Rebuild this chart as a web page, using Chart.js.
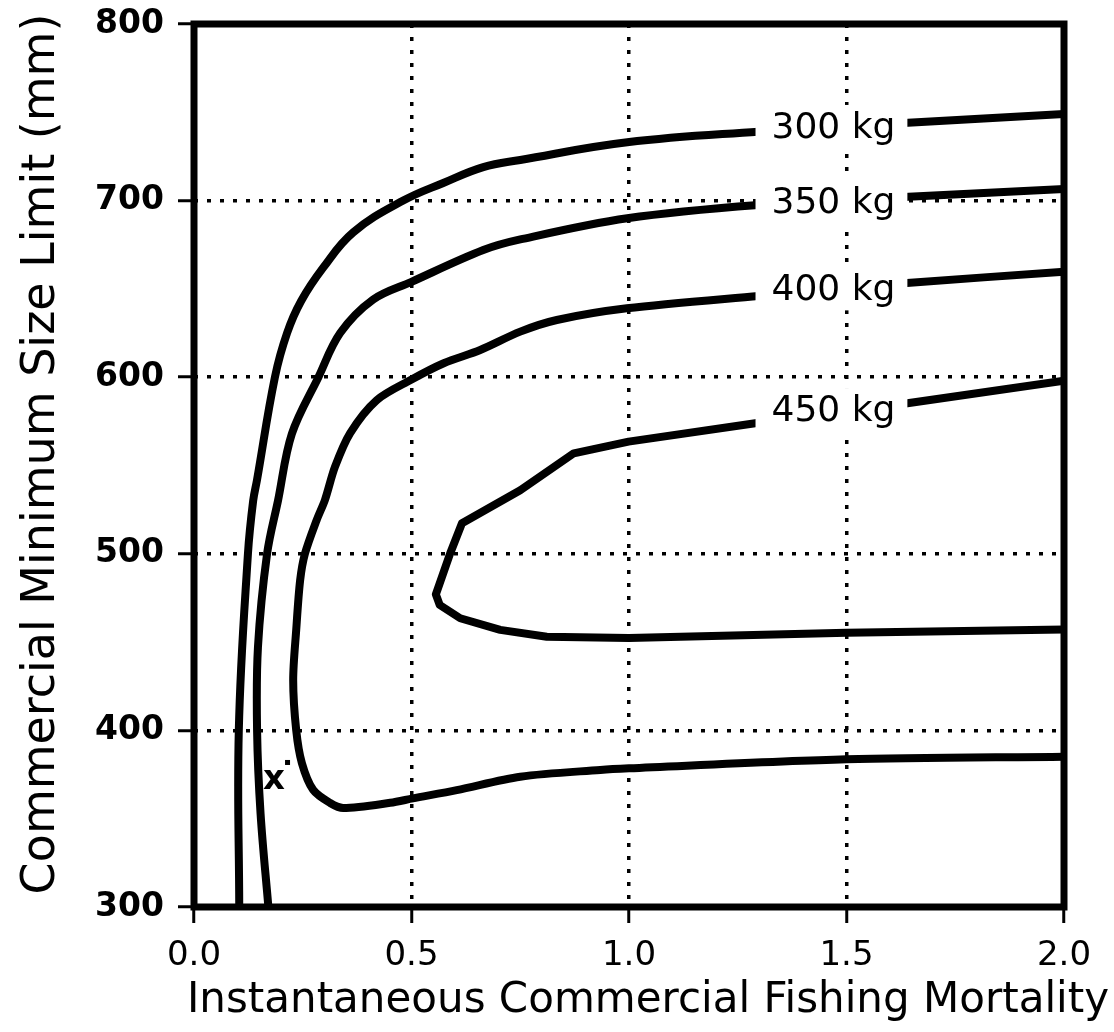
<!DOCTYPE html>
<html>
<head>
<meta charset="utf-8">
<title>Commercial yield isopleths</title>
<script src="https://cdn.jsdelivr.net/npm/chart.js@4"></script>
<style>
  html, body { margin: 0; padding: 0; background: #fff; }
  #wrap { width: 1114px; height: 1032px; }
</style>
</head>
<body>
<div id="wrap"><canvas id="isoChart"></canvas></div>
<script>
// Isopleth data: F = commercial fishing mortality, size = min size limit (mm)
var F_300 = [0.104, 0.103, 0.124, 0.136, 0.145, 0.186, 0.214, 0.246, 0.297, 0.366, 0.481, 0.573, 0.665, 0.75, 0.996, 1.297, 1.631, 2.0];
var size_300 = [300, 400, 500, 530, 542, 600, 625, 643, 662, 682, 700, 710, 719, 723, 733, 739, 744, 749];

var F_350 = [0.171, 0.153, 0.145, 0.147, 0.168, 0.193, 0.225, 0.286, 0.336, 0.412, 0.5, 0.665, 0.75, 0.996, 1.297, 1.631, 2.0];
var size_350 = [300, 353, 400, 447, 500, 530, 568, 600, 625, 644, 654, 672, 678, 690, 697.5, 702, 706.6];

var F_400 = [2.0, 1.631, 1.298, 0.995, 0.834, 0.75, 0.658, 0.574, 0.498, 0.42, 0.359, 0.324, 0.301, 0.282, 0.255, 0.244, 0.235, 0.228, 0.235, 0.248, 0.274, 0.313, 0.343, 0.451, 0.503, 0.604, 0.75, 0.934, 1.0, 1.5, 2.0];
var size_400 = [659.7, 653.2, 646, 639, 632.4, 625.8, 615.4, 607.9, 598.4, 587, 568.4, 549.2, 530.5, 519.1, 500, 485, 457, 428.6, 400, 381.5, 366.3, 358.9, 356.1, 359, 361.5, 366.2, 373.8, 377.6, 378.5, 383.6, 385.1];

var F_450 = [2.0, 1.628, 1.298, 0.999, 0.873, 0.75, 0.616, 0.589, 0.556, 0.565, 0.612, 0.704, 0.811, 1.0, 1.5, 2.0];
var size_450 = [598, 584.8, 574.2, 563.5, 556.9, 536, 517.3, 500.3, 477, 471, 463.5, 456.9, 453, 452.3, 455.3, 457.2];

// contour labels (text, F, size where the label sits)
var labelText = ['300 kg', '350 kg', '400 kg', '450 kg'];
var labelF = [1.47, 1.47, 1.47, 1.47];
var labelSize = [741.7, 699.4, 650.3, 581.4];

// the x' marker
var markF = 0.184;
var markSize = 370.8;

var xTicks = [0, 0.5, 1.0, 1.5, 2.0];
var yTicks = [300, 400, 500, 600, 700, 800];

function toPoints(xs, ys) {
    var pts = [];
    for (var i = 0; i < xs.length; i++) {
        pts.push({x: xs[i], y: ys[i]});
    }
    return pts;
}

function contour(label, xs, ys, tension) {
    return {
        label: label,
        data: toPoints(xs, ys),
        showLine: true,
        borderColor: '#000',
        borderWidth: 8,
        pointRadius: 0,
        tension: tension,
        borderJoinStyle: 'round',
        fill: false
    };
}

// draws the frame, the contour labels, the x' mark and the axis titles
var decorPlugin = {
    id: 'decor',
    afterDatasetsDraw: function(chart) {
        var ctx = chart.ctx;
        var area = chart.chartArea;
        var xs = chart.scales.x, ys = chart.scales.y;
        ctx.save();

        // labels with white box behind (hides line and grid like the original)
        ctx.font = '36px "DejaVu Sans"';
        ctx.textAlign = 'center';
        ctx.textBaseline = 'middle';
        for (var i = 0; i < labelText.length; i++) {
            var cx = xs.getPixelForValue(labelF[i]);
            var cy = ys.getPixelForValue(labelSize[i]);
            var w = ctx.measureText(labelText[i]).width;
            ctx.fillStyle = '#fff';
            ctx.fillRect(cx - w / 2 - 16, cy - 22, w + 28, 44);
            ctx.fillStyle = '#000';
            ctx.fillText(labelText[i], cx, cy + 2);
        }

        // x' mark
        var mx = xs.getPixelForValue(markF);
        var my = ys.getPixelForValue(markSize);
        ctx.font = 'bold 34px "DejaVu Sans"';
        ctx.fillText('x', mx, my - 2);
        ctx.fillRect(mx + 11, my - 22, 5, 5);

        // frame
        ctx.strokeStyle = '#000';
        ctx.lineWidth = 7;
        ctx.strokeRect(area.left, area.top, area.right - area.left, area.bottom - area.top);
        ctx.restore();
    },
    afterDraw: function(chart) {
        var ctx = chart.ctx;
        ctx.save();
        ctx.fillStyle = '#000';
        ctx.textAlign = 'center';
        ctx.textBaseline = 'alphabetic';
        ctx.font = '42px "DejaVu Sans"';
        ctx.fillText('Instantaneous Commercial Fishing Mortality', 648, 1012);

        ctx.translate(54, 454);
        ctx.rotate(-Math.PI / 2);
        ctx.font = '46px "DejaVu Sans"';
        ctx.fillText('Commercial Minimum Size Limit (mm)', 0, 0);
        ctx.restore();
    }
};

var ctx = document.getElementById('isoChart').getContext('2d');
var isoChart = new Chart(ctx, {
    type: 'scatter',
    data: {
        datasets: [
            contour('300 kg', F_300, size_300, 0.4),
            contour('350 kg', F_350, size_350, 0.35),
            contour('400 kg', F_400, size_400, 0.3),
            contour('450 kg', F_450, size_450, 0)
        ]
    },
    options: {
        responsive: true,
        maintainAspectRatio: false,
        animation: false,
        devicePixelRatio: 1,
        layout: { padding: { left: 0, top: 24, right: 50, bottom: 0 } },
        plugins: {
            legend: { display: false },
            tooltip: { enabled: false }
        },
        scales: {
            x: {
                type: 'linear',
                min: 0,
                max: 2,
                afterBuildTicks: function(scale) {
                    scale.ticks = xTicks.map(function(v) { return {value: v}; });
                },
                ticks: {
                    callback: function(v) { return v.toFixed(1); },
                    color: '#000',
                    font: { family: 'DejaVu Sans', size: 34 },
                    padding: 13,
                    maxRotation: 0,
                    autoSkip: false
                },
                grid: {
                    color: '#000',
                    lineWidth: 3.5,
                    tickLength: 16,
                    tickWidth: 3,
                    tickColor: '#000'
                },
                border: { display: false, dash: [4, 9] },
                afterFit: function(scale) {
                    scale.height = 125;
                    scale.paddingLeft = 0;
                    scale.paddingRight = 0;
                }
            },
            y: {
                type: 'linear',
                min: 300,
                max: 800,
                afterBuildTicks: function(scale) {
                    scale.ticks = yTicks.map(function(v) { return {value: v}; });
                },
                ticks: {
                    color: '#000',
                    font: { family: 'DejaVu Sans', size: 33, weight: 'bold' },
                    padding: 14,
                    autoSkip: false
                },
                grid: {
                    color: '#000',
                    lineWidth: 3.5,
                    tickLength: 16,
                    tickWidth: 3,
                    tickColor: '#000'
                },
                border: { display: false, dash: [4, 9] },
                afterFit: function(scale) {
                    scale.width = 194;
                    scale.paddingTop = 0;
                    scale.paddingBottom = 0;
                }
            }
        }
    },
    plugins: [decorPlugin]
});
</script>
</body>
</html>
